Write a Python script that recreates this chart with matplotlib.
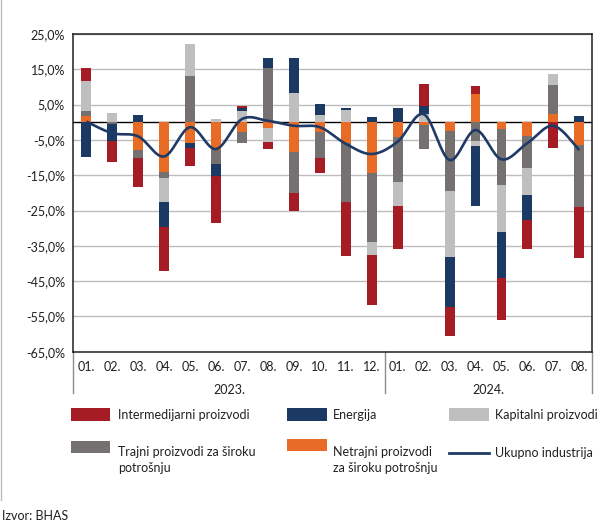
import numpy as np
import matplotlib as mpl
mpl.use('Agg')
import matplotlib.pyplot as plt
from matplotlib.patches import Rectangle
from matplotlib.lines import Line2D
import matplotlib.transforms as mtransforms

#data (contributions, p.p.)
months = ['01.', '02.', '03.', '04.', '05.', '06.', '07.', '08.', '09.', '10.', '11.', '12.',
          '01.', '02.', '03.', '04.', '05.', '06.', '07.', '08.']
years = ['2023.', '2024.']
year_len = [12, 8]

intermed = [3.6, -6.0, -8.4, -12.3, -5.1, -13.5, 0.5, -2.0, -5.0, -4.2, -15.3, -14.2,
            -12.2, 6.2, -8.1, 2.4, -11.7, -8.1, -7.2, -14.5]
energy = [-9.9, -4.6, 2.0, -7.3, -1.3, -3.2, 0.8, 2.8, 10.1, 3.1, 0.6, 1.5,
          4.0, 2.2, -14.2, -17.0, -13.2, -7.2, 0.0, 1.8]
capital = [8.4, 2.5, 0.0, -6.8, 8.9, 1.0, 3.3, -4.0, 8.2, 2.0, 3.5, -3.8,
           -6.8, 2.4, -18.6, -1.5, -13.3, -7.4, 3.0, 0.0]
durable = [1.5, -0.6, -2.0, -1.7, 13.2, -4.1, -3.1, 15.3, -11.8, -7.3, -16.8, -19.4,
           -12.9, -6.7, -17.2, -5.2, -15.7, -9.2, 8.3, -17.5]
nondurable = [1.8, 0.0, -8.0, -14.0, -5.9, -7.8, -2.8, -1.5, -8.3, -2.9, -5.9, -14.4,
              -4.1, -0.9, -2.4, 8.0, -2.0, -3.9, 2.3, -6.4]
total = [0.2, -3.1, -4.0, -9.7, -1.4, -7.6, 0.9, 0.4, -1.0, -1.4, -6.1, -9.0,
         -5.5, 2.3, -10.7, -2.2, -10.5, -5.9, -1.0, -7.9]

#colors
c_red = '#A51C24'
c_navy = '#1C3964'
c_ltgray = '#BFBFBF'
c_dkgray = '#767171'
c_orange = '#E86C25'
c_line = '#1F3A66'

#stacking order (from zero outward), as in the original
series = [(nondurable, c_orange),
          (durable, c_dkgray),
          (capital, c_ltgray),
          (energy, c_navy),
          (intermed, c_red)]

fs = 9.
mpl.rcParams['font.family'] = ['Lato', 'DejaVu Sans']
mpl.rcParams['font.size'] = fs

W, H = 611, 524
fig = plt.figure(figsize=(W / 100, H / 100), dpi=100)

#axes position from pixel box
ax_l, ax_r, ax_t, ax_b = 73.3, 592.3, 34.0, 351.7
ax = fig.add_axes([ax_l / W, 1 - ax_b / H, (ax_r - ax_l) / W, (ax_b - ax_t) / H])

x = np.arange(len(months))
pos_base = np.zeros(len(months))
neg_base = np.zeros(len(months))
bar_w = 0.38
for vals, col in series:
    v = np.array(vals)
    pos = np.where(v > 0, v, 0)
    neg = np.where(v < 0, v, 0)
    ax.bar(x, pos, bar_w, bottom=pos_base, color=col, zorder=3, linewidth=0)
    ax.bar(x, neg, bar_w, bottom=neg_base, color=col, zorder=3, linewidth=0)
    pos_base += pos
    neg_base += neg

#smoothed line (Catmull-Rom, like Excel "smoothed line")
def smooth(xs, ys, n=20):
    xs = np.asarray(xs, float)
    ys = np.asarray(ys, float)
    px = np.concatenate([[xs[0]], xs, [xs[-1]]])
    py = np.concatenate([[ys[0]], ys, [ys[-1]]])
    out_x, out_y = [], []
    t = np.linspace(0, 1, n, endpoint=False)
    for i in range(1, len(px) - 2):
        p0, p1, p2, p3 = (np.array([px[j], py[j]]) for j in (i - 1, i, i + 1, i + 2))
        c1 = p1 + (p2 - p0) / 6.
        c2 = p2 - (p3 - p1) / 6.
        b = ((1 - t) ** 3)[:, None] * p1 + (3 * (1 - t) ** 2 * t)[:, None] * c1 + \
            (3 * (1 - t) * t ** 2)[:, None] * c2 + (t ** 3)[:, None] * p2
        out_x.extend(b[:, 0])
        out_y.extend(b[:, 1])
    out_x.append(xs[-1])
    out_y.append(ys[-1])
    return np.array(out_x), np.array(out_y)

sx, sy = smooth(x, total)
ax.plot(sx, sy, color=c_line, linewidth=1.9, zorder=4, solid_capstyle='butt')

#axes settings
ax.set_xlim(-0.5, len(months) - 0.5)
ax.set_ylim(-65, 25)
yt = np.arange(25, -66, -10)
ax.set_yticks(yt)
ax.set_yticklabels([('%.1f' % v).replace('.', ',') + '%' for v in yt])
ax.set_xticks(x)
ax.set_xticklabels(months)
ax.tick_params(axis='both', length=0, colors='#231F20')
ax.tick_params(axis='y', pad=6)
ax.tick_params(axis='x', pad=7)
ax.grid(axis='y', color='#BDBDBD', linewidth=1.0, zorder=0)
ax.set_axisbelow(True)
ax.axhline(0, color='black', linewidth=1.0, zorder=2)
for s in ax.spines.values():
    s.set_color('#231F20')
    s.set_linewidth(1.1)

#year labels and separators
trans = mtransforms.blended_transform_factory(ax.transData, ax.transAxes)
sep_h = (393 - ax_b) / (ax_b - ax_t)
start = 0
seps = [-0.5]
for yr, n in zip(years, year_len):
    ax.text(start + (n - 1) / 2., -(390 - ax_b) / (ax_b - ax_t), yr, transform=trans,
            ha='center', va='center', color='#231F20')
    start += n
    seps.append(start - 0.5)
for sx_ in seps:
    ax.plot([sx_, sx_], [0, -sep_h], transform=trans, color='#8C8C8C',
            linewidth=1.0, clip_on=False)

#legend, built by hand in pixel units
def px_box(x0, y0, x1, y1):
    return (x0 / W, 1 - y1 / H, (x1 - x0) / W, (y1 - y0) / H)

def swatch(x0, y0, x1, y1, col):
    l, b, w, h = px_box(x0, y0, x1, y1)
    fig.add_artist(Rectangle((l, b), w, h, transform=fig.transFigure,
                             facecolor=col, edgecolor='none'))

def label(xp, yp, txt):
    fig.text(xp / W, 1 - yp / H, txt, ha='left', va='center', color='#231F20',
             fontsize=fs, linespacing=1.3)

swatch(71, 408, 110, 421, c_red)
label(118, 415, 'Intermedijarni proizvodi')
swatch(287, 408, 327, 421, c_navy)
label(333, 415, 'Energija')
swatch(449, 408, 489, 421, c_ltgray)
label(495, 415, 'Kapitalni proizvodi')

swatch(71, 441, 110, 453, c_dkgray)
label(118, 460, 'Trajni proizvodi za široku\npotrošnju')
swatch(287, 439, 327, 451, c_orange)
label(333, 460, 'Netrajni proizvodi\nza široku potrošnju')
fig.add_artist(Line2D([449 / W, 489 / W], [1 - 453 / H, 1 - 453 / H],
                      transform=fig.transFigure, color=c_line, linewidth=2.0))
label(495, 453, 'Ukupno industrija')

fig.text(2 / W, 1 - 516 / H, 'Izvor: BHAS', ha='left', va='center', color='#231F20', fontsize=fs)

#thin gray frame line on the left side
fig.add_artist(Line2D([1 / W, 1 / W], [1 - 0 / H, 1 - 500 / H],
                      transform=fig.transFigure, color='#BDBDBD', linewidth=1.0))

fig.savefig('out.png', dpi=100)
